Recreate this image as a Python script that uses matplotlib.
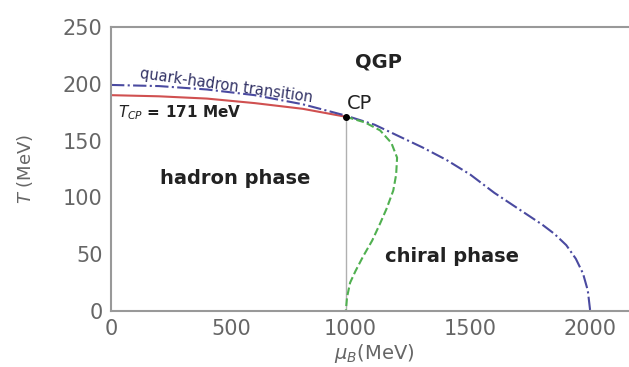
import matplotlib.pyplot as plt

# Phase diagram data
mu_qh = [0, 200, 400, 600, 800, 980, 1100, 1200, 1300, 1400, 1500, 1600, 1700,
         1800, 1850, 1900, 1940, 1970, 1990, 2000]
T_qh = [199, 198, 195, 190, 182, 172, 164, 154, 144, 133, 120, 104, 90,
        76, 68, 58, 46, 33, 18, 0]

mu_red = [0, 200, 400, 600, 800, 980]
T_red = [190, 189, 187, 183, 178, 171]

mu_chiral = [980, 1060, 1123, 1170, 1194, 1190, 1178, 1150, 1123, 1090, 1052, 1020, 998, 985, 980]
T_chiral = [171, 166, 159, 148, 135, 120, 106, 90, 77, 62, 48, 35, 25, 12, 0]

mu_cp = 980
T_cp = 171

xticks = [0, 500, 1000, 1500, 2000]
yticks = [0, 50, 100, 150, 200, 250]

fig = plt.figure(figsize=(6.29, 3.67), dpi=100)
ax = fig.add_axes([0.1765, 0.1526, 0.838, 0.7738])

ax.plot([mu_cp, mu_cp], [0, T_cp], color='#b0b0b0', lw=1)
ax.plot(mu_red, T_red, color='#d05050', lw=1.5)
ax.plot(mu_qh, T_qh, color='#4a4aa0', lw=1.5, ls='-.')
ax.plot(mu_chiral, T_chiral, color='#50b050', lw=1.5, ls='--')
ax.plot(mu_cp, T_cp, 'o', color='black', ms=4)

ax.text(1115, 219, 'QGP', fontsize=14, fontweight='bold', color='#222222', ha='center', va='center')
ax.text(985, 183, 'CP', fontsize=14, color='#222222', ha='left', va='center')
ax.text(205, 117, 'hadron phase', fontsize=14, fontweight='bold', color='#222222', ha='left', va='center')
ax.text(1144, 48, 'chiral phase', fontsize=14, fontweight='bold', color='#222222', ha='left', va='center')
ax.text(29, 175, r'$T_{CP}$ = 171 MeV', fontsize=11, fontweight='bold', color='#222222', ha='left', va='center')
ax.text(480, 198, 'quark-hadron transition', fontsize=10.5, color='#333366',
        ha='center', va='center', rotation=-8)

ax.set_xlim(0, 2200)
ax.set_ylim(0, 250)
ax.set_xticks(xticks)
ax.set_yticks(yticks)
ax.tick_params(length=0, labelsize=15, labelcolor='#666666', pad=6)
for s in ['left', 'bottom', 'top']:
    ax.spines[s].set_color('#999999')
    ax.spines[s].set_linewidth(1.5)
ax.spines['right'].set_visible(False)

ax.set_xlabel(r'$\mu_B$(MeV)', fontsize=14, color='#666666', labelpad=2)
ax.set_ylabel(r'$T$ (MeV)', fontsize=13, color='#666666', labelpad=20)

plt.savefig('out.png', dpi=100)
plt.close()
